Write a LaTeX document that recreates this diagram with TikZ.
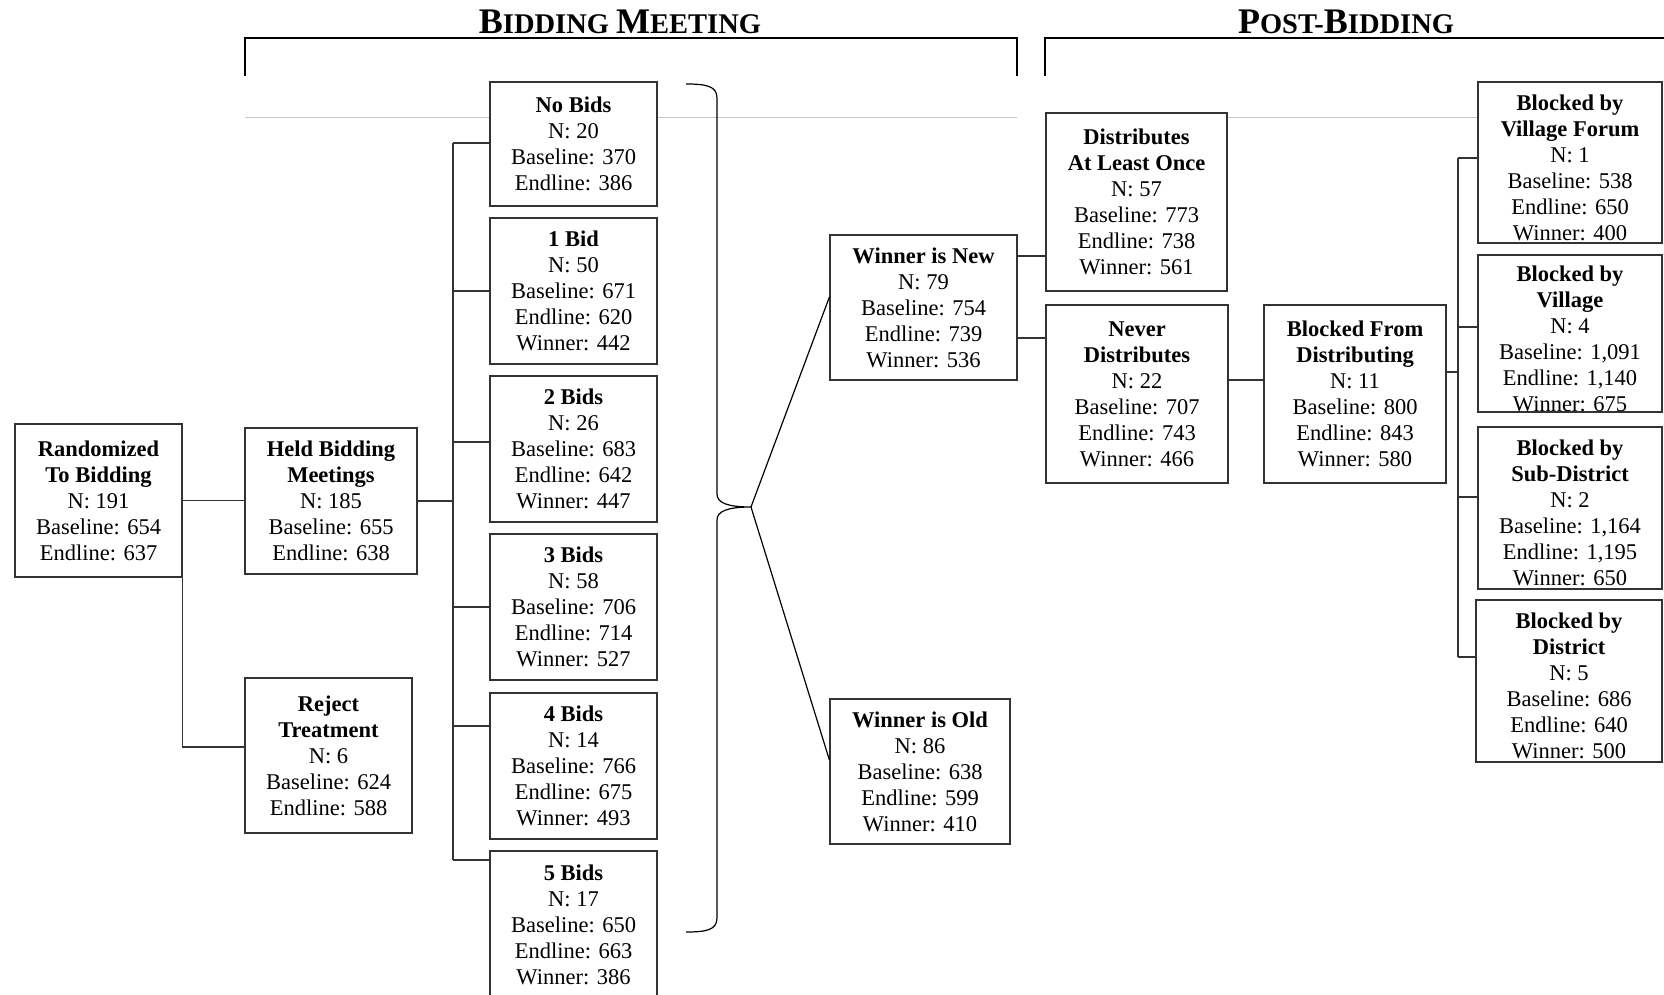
\documentclass[tikz,border=0pt]{standalone}
\usepackage{fontspec}
\setmainfont{Liberation Serif}
\newcommand{\HdBig}[1]{{\fontsize{36}{40}\selectfont #1}}
\newcommand{\HdSm}[1]{{\fontsize{28.5}{32}\selectfont #1}}
\begin{document}
\begin{tikzpicture}[x=1pt,y=-1pt,
  box/.style={draw=black!80, line width=1.2pt, fill=white, inner sep=0pt, align=center,
    font=\fontsize{22.5}{26}\selectfont},
  conn/.style={draw=black!80, line width=1.2pt},
  bracketline/.style={draw=black, line width=2pt},
  bracecurve/.style={draw=black, line width=1.2pt},
  heading/.style={inner sep=0pt, font=\bfseries, anchor=base},
  guide/.style={draw=black!22, line width=0.9pt}]
\useasboundingbox (0,0) rectangle (1664,995);

% headings and brackets
\node[heading] (hbid) at (620,34) {\HdBig{B}\HdSm{IDDING\ }\HdBig{M}\HdSm{EETING}};
\node[heading] (hpost) at (1346,34) {\HdBig{P}\HdSm{OST-}\HdBig{B}\HdSm{IDDING}};
\draw[bracketline] (245,76) -- (245,38) -- (1017,38) -- (1017,76);
\draw[bracketline] (1045,76) -- (1045,38) -- (1664,38);

% faint guide lines
\draw[guide] (245,117) -- (1017,117);
\draw[guide] (1045,117) -- (1478,117);

% boxes
\node[box, minimum width=167pt, minimum height=153pt] (rand) at (98.5,500.5)
  {\textbf{Randomized}\\\textbf{To Bidding}\\N: 191\\Baseline: 654\\Endline: 637};
\node[box, minimum width=172pt, minimum height=146pt] (held) at (331,501)
  {\textbf{Held Bidding}\\\textbf{Meetings}\\N: 185\\Baseline: 655\\Endline: 638};
\node[box, minimum width=167pt, minimum height=155pt] (reject) at (328.5,755.5)
  {\textbf{Reject}\\\textbf{Treatment}\\N: 6\\Baseline: 624\\Endline: 588};

\node[box, minimum width=167pt, minimum height=124pt] (nobids) at (573.5,144)
  {\textbf{No Bids}\\N: 20\\Baseline: 370\\Endline: 386};
\node[box, minimum width=167pt, minimum height=146pt] (bid1) at (573.5,291)
  {\textbf{1 Bid}\\N: 50\\Baseline: 671\\Endline: 620\\Winner: 442};
\node[box, minimum width=167pt, minimum height=146pt] (bid2) at (573.5,449)
  {\textbf{2 Bids}\\N: 26\\Baseline: 683\\Endline: 642\\Winner: 447};
\node[box, minimum width=167pt, minimum height=146pt] (bid3) at (573.5,607)
  {\textbf{3 Bids}\\N: 58\\Baseline: 706\\Endline: 714\\Winner: 527};
\node[box, minimum width=167pt, minimum height=146pt] (bid4) at (573.5,766)
  {\textbf{4 Bids}\\N: 14\\Baseline: 766\\Endline: 675\\Winner: 493};
\node[box, minimum width=167pt, minimum height=148pt] (bid5) at (573.5,925)
  {\textbf{5 Bids}\\N: 17\\Baseline: 650\\Endline: 663\\Winner: 386};

\node[box, minimum width=187pt, minimum height=145pt] (wnew) at (923.5,307.5)
  {\textbf{Winner is New}\\N: 79\\Baseline: 754\\Endline: 739\\Winner: 536};
\node[box, minimum width=180pt, minimum height=145pt] (wold) at (920,771.5)
  {\textbf{Winner is Old}\\N: 86\\Baseline: 638\\Endline: 599\\Winner: 410};

\node[box, minimum width=181pt, minimum height=178pt] (dist) at (1136.5,202)
  {\textbf{Distributes}\\\textbf{At Least Once}\\N: 57\\Baseline: 773\\Endline: 738\\Winner: 561};
\node[box, minimum width=182pt, minimum height=178pt] (never) at (1137,394)
  {\textbf{Never}\\\textbf{Distributes}\\N: 22\\Baseline: 707\\Endline: 743\\Winner: 466};
\node[box, minimum width=182pt, minimum height=178pt] (bfrom) at (1355,394)
  {\textbf{Blocked From}\\\textbf{Distributing}\\N: 11\\Baseline: 800\\Endline: 843\\Winner: 580};

\node[box, minimum width=184pt, minimum height=161pt] (vforum) at (1570,162.5)
  {\rule{0pt}{26pt}\textbf{Blocked by}\\\textbf{Village Forum}\\N: 1\\Baseline: 538\\Endline: 650\\Winner: 400};
\node[box, minimum width=184pt, minimum height=157pt] (village) at (1570,333.5)
  {\rule{0pt}{26pt}\textbf{Blocked by}\\\textbf{Village}\\N: 4\\Baseline: 1,091\\Endline: 1,140\\Winner: 675};
\node[box, minimum width=184pt, minimum height=162pt] (subd) at (1570,508)
  {\rule{0pt}{26pt}\textbf{Blocked by}\\\textbf{Sub-District}\\N: 2\\Baseline: 1,164\\Endline: 1,195\\Winner: 650};
\node[box, minimum width=186pt, minimum height=162pt] (district) at (1569,681)
  {\rule{0pt}{26pt}\textbf{Blocked by}\\\textbf{District}\\N: 5\\Baseline: 686\\Endline: 640\\Winner: 500};

% connectors, left part
\draw[conn] (rand.east) -- (rand.east -| held.west);
\draw[conn] (rand.south east) |- ([yshift=8.5pt]reject.west);

\coordinate (busA) at (453,143);
\coordinate (busB) at (453,860);
\draw[conn] (busA) -- (busB);
\draw[conn] (held.east) -- (held.east -| busA);
\draw[conn] ([yshift=1pt]nobids.west -| busA) -- ([yshift=1pt]nobids.west);
\draw[conn] (bid1.west -| busA) -- (bid1.west);
\draw[conn] ([yshift=7pt]bid2.west -| busA) -- ([yshift=7pt]bid2.west);
\draw[conn] (bid3.west -| busA) -- (bid3.west);
\draw[conn] ([yshift=40pt]bid4.west -| busA) -- ([yshift=40pt]bid4.west);
\draw[conn] ([yshift=65pt]bid5.west -| busA) -- ([yshift=65pt]bid5.west);

% brace
\coordinate (tip) at (751,507);
\draw[bracecurve] (686,84) .. controls (706,84) and (717,86) .. (717,98)
  -- (717,494) .. controls (717,503) and (728,507) .. (tip)
  .. controls (728,507) and (717,511) .. (717,520)
  -- (717,918) .. controls (717,930) and (706,932) .. (686,932);
\draw[bracecurve] (tip) -- ([yshift=10.5pt]wnew.west);
\draw[bracecurve] (tip) -- ([yshift=11.5pt]wold.west);

% connectors, right part
\draw[conn] ([yshift=51.5pt]wnew.east) -- ([yshift=51.5pt]wnew.east -| dist.west);
\draw[conn] ([yshift=-30.5pt]wnew.east) -- ([yshift=-30.5pt]wnew.east -| never.west);
\draw[conn] ([yshift=14pt]never.east) -- ([yshift=14pt]never.east -| bfrom.west);

\coordinate (busC) at (1458,158);
\coordinate (busD) at (1458,657);
\draw[conn] (busC) -- (busD);
\draw[conn] ([yshift=22pt]bfrom.east) -- ([yshift=22pt]bfrom.east -| busC);
\draw[conn] ([yshift=4.5pt]vforum.west -| busC) -- ([yshift=4.5pt]vforum.west);
\draw[conn] ([yshift=6.5pt]village.west -| busC) -- ([yshift=6.5pt]village.west);
\draw[conn] ([yshift=11pt]subd.west -| busC) -- ([yshift=11pt]subd.west);
\draw[conn] ([yshift=24pt]district.west -| busC) -- ([yshift=24pt]district.west);
\end{tikzpicture}
\end{document}
